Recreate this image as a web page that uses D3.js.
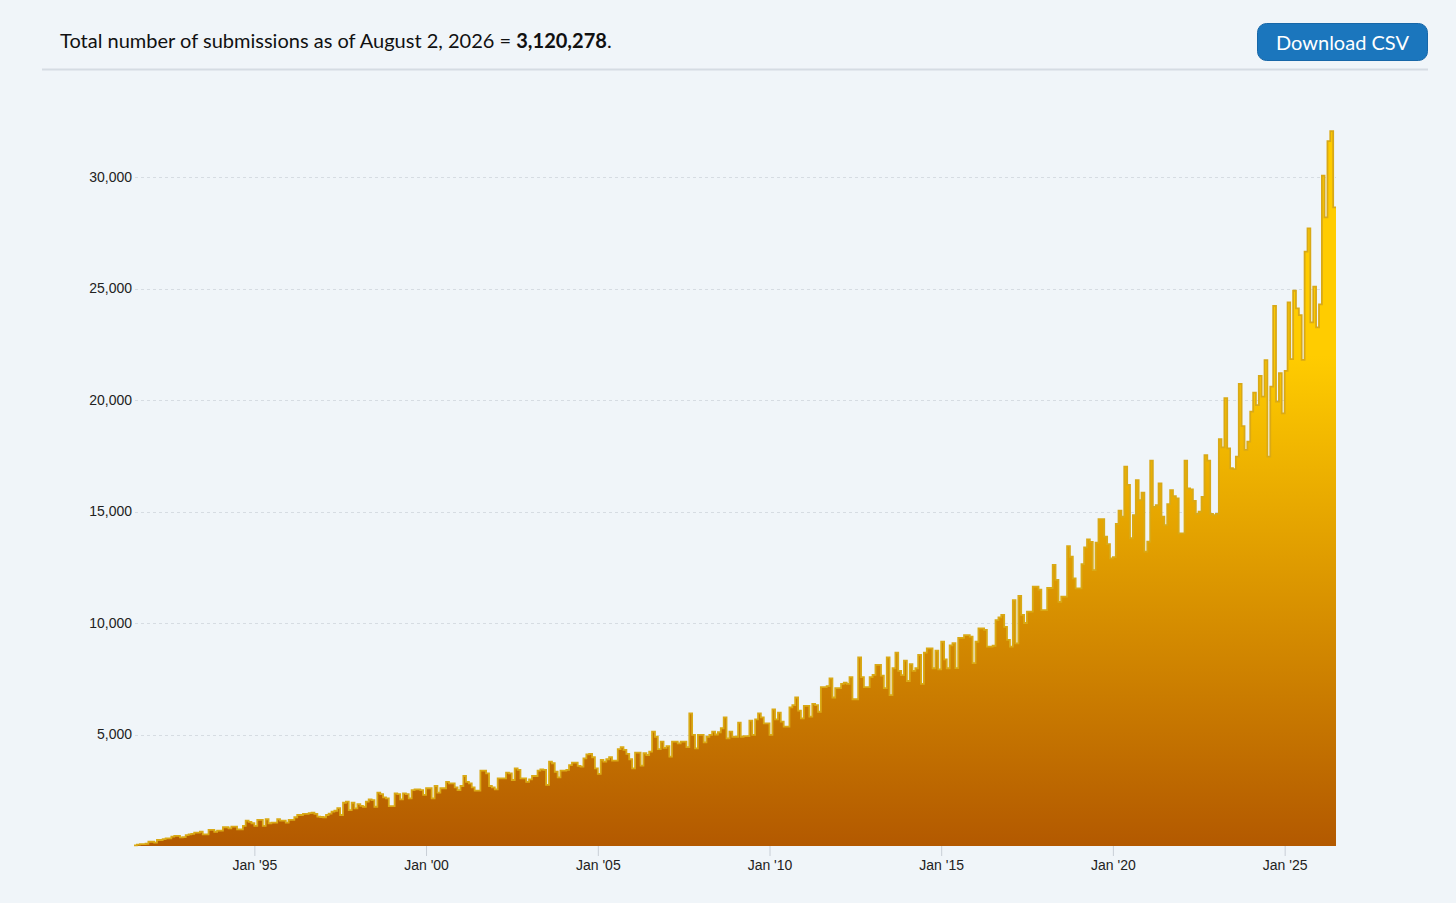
<!DOCTYPE html>
<html>
<head>
<meta charset="utf-8">
<script src="https://cdn.jsdelivr.net/npm/d3@7"></script>
<style>
    body { margin: 0; background: #f0f5f9; }
    svg { display: block; }
</style>
</head>
<body>
<svg id="chart" width="1456" height="903"></svg>
<script>
// monthly submissions, starting Aug 1991
var subs1990s = [
    30, 60, 80, 80, 100,                                                // 1991 (Aug-Dec)
    190, 190, 150, 270, 270, 310, 340, 340, 420, 450, 450, 390,          // 1992
    400, 490, 520, 540, 600, 600, 640, 520, 520, 720, 720, 640,          // 1993
    690, 690, 840, 840, 790, 870, 870, 750, 750, 900, 1140, 1080,        // 1994
    1020, 900, 1170, 1170, 900, 1200, 1020, 1050, 1050, 1200, 1140, 1140, // 1995
    1050, 1170, 1170, 1290, 1390, 1390, 1440, 1440, 1470, 1490, 1440, 1320, // 1996
    1300, 1290, 1390, 1450, 1540, 1580, 1700, 1390, 1940, 1990, 1610, 1940, // 1997
    1690, 1880, 1800, 1760, 1990, 2090, 2060, 1760, 2390, 2330, 2180, 2140, // 1998
    1790, 1790, 2360, 2330, 2090, 2360, 2330, 2140, 2510, 2540, 2540, 2510  // 1999
];
var subs2000s = [
    2290, 2590, 2590, 2140, 2690, 2390, 2590, 2590, 2880, 2810, 2810, 2630, // 2000
    2510, 2690, 3140, 2880, 2810, 2630, 2480, 2480, 3380, 3380, 3260, 2690, // 2001
    2630, 2540, 3030, 3030, 3030, 3290, 3260, 2960, 3480, 3410, 3030, 3030, // 2002
    2880, 2990, 3140, 3140, 3380, 3440, 3410, 2740, 3780, 3710, 3330, 3080, // 2003
    3380, 3380, 3410, 3630, 3740, 3740, 3590, 3560, 3930, 4110, 4130, 3980, // 2004
    3480, 3230, 3860, 3780, 3890, 3980, 3830, 3830, 4340, 4430, 4310, 4130, // 2005
    3890, 3480, 4190, 4190, 3600, 4160, 4080, 4230, 5130, 4900, 4340, 4680, // 2006
    4400, 4480, 4010, 4680, 4680, 4600, 4680, 4680, 4430, 5950, 4980, 4380, // 2007
    4980, 4980, 4650, 4900, 4980, 5130, 5000, 5100, 5280, 5770, 4830, 5130, // 2008
    4900, 4900, 5530, 4900, 4930, 4930, 5620, 4980, 5680, 5950, 5770, 5500  // 2009
];
var subs2010s = [
    5500, 4980, 6130, 5680, 5980, 5580, 5350, 5350, 6220, 6320, 6660, 6070, // 2010
    5720, 6280, 6280, 5800, 6370, 6320, 6020, 7120, 7120, 7170, 7520, 6660, // 2011
    7080, 7080, 7270, 7320, 7270, 7570, 6580, 6580, 8460, 7570, 7120, 7120, // 2012
    7570, 7670, 8120, 8120, 7640, 7080, 8460, 6770, 7970, 8670, 7850, 7660, // 2013
    8310, 7400, 8160, 7850, 7970, 8570, 7270, 8670, 8860, 8860, 7970, 8760, // 2014
    7920, 9160, 8370, 7970, 9000, 9100, 7980, 9330, 9330, 9460, 9460, 9390, // 2015
    8200, 9160, 9760, 9760, 9690, 8940, 8940, 8980, 10130, 10250, 10360, 9830, // 2016
    9240, 8940, 11030, 9090, 11210, 10360, 10000, 10510, 10510, 11630, 11630, 11500, // 2017
    10580, 10580, 11570, 11570, 12600, 11930, 10950, 11180, 11180, 13450, 12970, 12000, // 2018
    11550, 11550, 12640, 13390, 13750, 13640, 12370, 13600, 14660, 14660, 13870, 13540  // 2019
];
var subs2020s = [
    12900, 12950, 14440, 15040, 14770, 17010, 16190, 13800, 14840, 16410, 15510, 15840, // 2020
    13200, 13650, 17280, 15210, 15290, 16260, 14770, 14390, 15330, 15960, 15690, 15590, // 2021
    14020, 14020, 17280, 16040, 15990, 15480, 14890, 14990, 15660, 17530, 17280, 14890, // 2022
    14840, 14890, 18240, 17880, 20080, 17830, 16940, 16900, 17460, 20720, 18830, 17760, // 2023
    18130, 19480, 20330, 19770, 21080, 20150, 21790, 17460, 20600, 24220, 19930, 21200, // 2024
    19400, 21310, 24380, 21830, 24900, 24110, 23810, 21800, 26650, 27700, 23480, 25080, // 2025
    23260, 24290, 30060, 28190, 31610, 32060, 28640                                     // 2026 (Jan-Jul)
];

var firstMonth = new Date(1991, 7, 1);
var yTicks = [5000, 10000, 15000, 20000, 25000, 30000];
var xTickYears = [1995, 2000, 2005, 2010, 2015, 2020, 2025];
var headerText = "Total number of submissions as of August 2, 2026 = ";
var headerTotal = "3,120,278";
var buttonLabel = "Download CSV";

var values = subs1990s.concat(subs2000s, subs2010s, subs2020s);
var data = values.map(function (v, i) {
    return {date: d3.timeMonth.offset(firstMonth, i), value: v};
});
// a month's value is drawn over the month leading up to its date
var steps = [{date: d3.timeMonth.offset(firstMonth, -1), value: values[0]}].concat(data);

var margin = {left: 134, right: 120, top: 177, bottom: 57};
var W = 1456, H = 903;
var svg = d3.select("#chart");

var x = d3.scaleTime()
    .domain([steps[0].date, data[data.length - 1].date])
    .range([margin.left, W - margin.right]);

var y = d3.scaleLinear()
    .domain([0, 30000])
    .range([H - margin.bottom, margin.top]);

// header
var header = svg.append("text")
    .attr("x", 60)
    .attr("y", 48)
    .style("font-family", "Lato, 'Noto Sans', sans-serif")
    .style("font-size", "18px")
    .style("fill", "#111");
header.append("tspan").text(headerText);
header.append("tspan").style("font-weight", "bold").text(headerTotal);
header.append("tspan").text(".");
var hw = header.node().getComputedTextLength();
header.style("font-size", (18 * 552 / hw) + "px");

svg.append("line")
    .attr("x1", 42).attr("x2", 1428)
    .attr("y1", 69.5).attr("y2", 69.5)
    .style("stroke", "#d5dce3")
    .style("stroke-width", 2);

// download button
var btn = svg.append("g");
btn.append("rect")
    .attr("x", 1257.5).attr("y", 23.5)
    .attr("width", 170).attr("height", 37)
    .attr("rx", 9)
    .style("fill", "#1b76bd")
    .style("stroke", "#1767a8");
var bt = btn.append("text")
    .attr("x", 1342.5)
    .attr("y", 50)
    .attr("text-anchor", "middle")
    .style("font-family", "Lato, 'Noto Sans', sans-serif")
    .style("font-size", "20px")
    .style("fill", "#fff")
    .text(buttonLabel);
var bw = bt.node().getComputedTextLength();
bt.style("font-size", (20 * 133 / bw) + "px");

// gradient
var defs = svg.append("defs");
var grad = defs.append("linearGradient")
    .attr("id", "fillGrad")
    .attr("gradientUnits", "userSpaceOnUse")
    .attr("x1", 0).attr("x2", 0)
    .attr("y1", y(22000)).attr("y2", y(0));
grad.append("stop").attr("offset", 0).attr("stop-color", "#ffcc00");
grad.append("stop").attr("offset", 1).attr("stop-color", "#b35900");

// grid lines
svg.append("g")
    .selectAll("line")
    .data(yTicks)
    .enter()
    .append("line")
    .attr("x1", 135).attr("x2", W - margin.right)
    .attr("y1", function (d) { return Math.round(y(d)) + 0.5; })
    .attr("y2", function (d) { return Math.round(y(d)) + 0.5; })
    .style("stroke", "#d6dce2")
    .style("stroke-dasharray", "3,3");

// y axis labels
var yAxis = svg.append("g")
    .attr("transform", "translate(135,0)")
    .call(d3.axisLeft(y).tickValues(yTicks).tickSize(0).tickPadding(3).tickFormat(d3.format(",")));
yAxis.select(".domain").remove();
yAxis.selectAll("text")
    .style("font-family", "'Liberation Sans', Arial, sans-serif")
    .style("font-size", "14px")
    .style("fill", "#222");

// x axis
var xAxis = svg.append("g")
    .attr("transform", "translate(0," + (H - margin.bottom) + ")")
    .call(d3.axisBottom(x)
        .tickValues(xTickYears.map(function (yr) { return new Date(yr, 0, 1); }))
        .tickSize(10)
        .tickPadding(4)
        .tickFormat(d3.timeFormat("Jan '%y")));
xAxis.select(".domain").remove();
xAxis.selectAll("line").style("stroke", "#c8ced6");
xAxis.selectAll("text")
    .style("font-family", "'Liberation Sans', Arial, sans-serif")
    .style("font-size", "14px")
    .style("fill", "#222");

// area + step line
svg.append("path")
    .datum(steps)
    .style("fill", "url(#fillGrad)")
    .style("stroke", "none")
    .attr("d", d3.area()
        .x(function (d) { return x(d.date); })
        .y0(y(0))
        .y1(function (d) { return y(d.value); })
        .curve(d3.curveStepBefore));

svg.append("path")
    .datum(steps)
    .style("fill", "none")
    .style("stroke", "#d9a916")
    .style("stroke-width", 1.8)
    .attr("d", d3.line()
        .x(function (d) { return x(d.date); })
        .y(function (d) { return y(d.value); })
        .curve(d3.curveStepBefore));
</script>
</body>
</html>
